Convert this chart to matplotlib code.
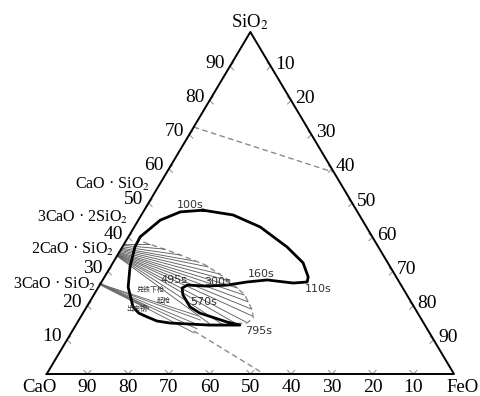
import numpy as np
import matplotlib.pyplot as plt

plt.rcParams['font.family'] = ['Liberation Serif', 'Noto Sans CJK SC']
plt.rcParams['mathtext.fontset'] = 'stix'

# slag path, composition in mass % (SiO2, FeO), CaO = rest
path_sio2 = [47.9, 46.5, 43.0, 37.1, 32.5, 28.4, 26.9, 26.6, 27.5, 26.9, 26.0, 25.7,
             26.0, 25.1, 23.1, 19.6, 17.8, 15.2, 14.3, 14.3, 14.9, 15.5, 16.7, 17.8,
             19.6, 25.4, 31.3, 37.1, 40.1, 45.0, 47.4, 47.9]
path_feo = [14.4, 22.5, 30.9, 40.5, 46.7, 50.0, 50.5, 47.2, 40.4, 35.7, 31.3, 26.5,
            21.5, 20.7, 21.9, 25.4, 28.7, 36.7, 40.3, 32.9, 22.8, 19.3, 16.3, 13.7,
            11.4, 7.3, 4.8, 3.1, 2.9, 5.4, 9.1, 14.4]

# time marks along the path
time_labels = ['100s', '110s', '160s', '300s', '495s', '570s', '795s']
time_sio2 = [49.4, 24.9, 29.2, 26.9, 27.5, 21.1, 12.6]
time_feo = [10.5, 54.2, 38.0, 28.4, 17.5, 27.9, 45.8]

# process events
event_labels = ['兑铁下枪', '起枪', '出完钢']
event_sio2 = [24.6, 21.4, 19.0]
event_feo = [13.3, 18.1, 12.5]

# tie lines from 2CaO·SiO2
c2s_start_sio2 = [38.0, 37.6, 37.2, 36.8, 36.5, 36.2, 35.9, 35.6, 35.4, 35.2,
                  35.0, 34.9, 34.8, 34.7, 34.6, 34.5]
c2s_end_sio2 = [38.0, 36.5, 34.8, 33.0, 31.3, 29.2, 27.2, 25.1, 23.1, 21.1,
                19.0, 17.0, 15.2, 14.9, 14.6, 14.6]
c2s_end_feo = [6.4, 10.8, 15.4, 19.9, 24.0, 28.0, 31.4, 34.4, 36.9, 38.9,
               40.7, 41.9, 41.3, 38.8, 35.7, 32.8]

# tie lines from 3CaO·SiO2
c3s_sio2 = 26.3
c3s_end_sio2 = [17.0, 15.8, 14.3, 13.2, 12.0]
c3s_end_feo = [28.7, 29.8, 30.2, 30.3, 30.2]
c3s_band_sio2 = [26.3, 19.3]
c3s_band_feo = [0.0, 15.2]

# dashed boundaries
sat_sio2 = [72.2, 59.1]
sat_feo = [0.0, 40.6]
env_sio2 = [38.6, 35.4, 31.9, 27.5, 23.1, 18.7, 16.4, 14.9, 14.3]
env_feo = [4.4, 13.8, 23.0, 30.8, 37.1, 41.1, 42.5, 41.7, 30.5]
low_sio2 = [12.6, 0.0]
low_feo = [29.8, 53.4]

ticks = [10, 20, 30, 40, 50, 60, 70, 80, 90]

compounds = ['CaO · SiO$_2$', '3CaO · 2SiO$_2$', '2CaO · SiO$_2$', '3CaO · SiO$_2$']


def tern(si, fe):
    si = np.asarray(si, float)
    fe = np.asarray(fe, float)
    return (fe + si / 2) / 100, si / 100


# pixel size in data units
PX = 1 / 407.3
PY = 1 / 342.0

fig = plt.figure(figsize=(4.81, 3.96), dpi=100)
ax = fig.add_axes([0, 0, 1, 1])
ax.set_xlim(-46.7 * PX, (481 - 46.7) * PX)
ax.set_ylim((374 - 396) * PY, 374 * PY)
ax.axis('off')

# triangle
ax.plot([0, 1, 0.5, 0], [0, 0, 1, 0], color='black', lw=1.4, zorder=5)

tick_col = '#8d9cab'
fs = 14
d = 3.5
for t in ticks:
    # bottom
    x, y = tern(0, 100 - t)
    ax.plot([x - d * PX, x, x + d * PX], [y + d * PY, y, y + d * PY], color=tick_col, lw=0.8)
    ax.text(x, y - 13 * PY, str(t), ha='center', va='center', fontsize=fs)
    # left
    x, y = tern(t, 0)
    ax.plot([x + d * PX, x, x + d * PX], [y + d * PY, y, y - d * PY], color=tick_col, lw=0.8)
    ax.text(x - 15 * PX, y + 3 * PY, str(t), ha='center', va='center', fontsize=fs)
    # right
    x, y = tern(t, 100 - t)
    ax.plot([x - d * PX, x, x - d * PX], [y + d * PY, y, y - d * PY], color=tick_col, lw=0.8)
    ax.text(x + 14 * PX, y + 2 * PY, str(100 - t), ha='center', va='center', fontsize=fs)

ax.text(-7 * PX, -13 * PY, 'CaO', ha='center', va='center', fontsize=13.5)
ax.text(1 + 9 * PX, -13 * PY, 'FeO', ha='center', va='center', fontsize=13.5)
ax.text(0.5, 1 + 10 * PY, 'SiO$_2$', ha='center', va='center', fontsize=13.5)

# compound labels on the CaO-SiO2 side
comp_pos = [(150, 184), (128, 217), (114, 249), (96, 284)]
for lab, (px, py) in zip(compounds, comp_pos):
    ax.text((px - 46.7) * PX, (374 - py) * PY, lab, ha='right', va='center', fontsize=11.5)

# dashed lines
dash_col = '#7f8f9c'
for si, fe in [(sat_sio2, sat_feo), (env_sio2, env_feo), (low_sio2, low_feo)]:
    x, y = tern(si, fe)
    ax.plot(x, y, color=dash_col, lw=1.0, ls=(0, (4, 2.5)))

# tie lines
x0, y0 = tern(c2s_start_sio2, np.zeros(len(c2s_start_sio2)))
x1, y1 = tern(c2s_end_sio2, c2s_end_feo)
for a, b, c, e in zip(x0, y0, x1, y1):
    ax.plot([a, c], [b, e], color='#606060', lw=0.65)

x, y = tern(c3s_band_sio2, c3s_band_feo)
ax.plot(x, y, color='#808080', lw=2.0)
xs, ys = tern(c3s_sio2, 0)
x1, y1 = tern(c3s_end_sio2, c3s_end_feo)
for c, e in zip(x1, y1):
    ax.plot([xs, c], [ys, e], color='#6a6a6a', lw=0.65)

# slag path
x, y = tern(path_sio2, path_feo)
ax.plot(x, y, color='black', lw=2.0, solid_joinstyle='round', zorder=6)

x, y = tern(time_sio2, time_feo)
for lab, a, b in zip(time_labels, x, y):
    ax.text(a, b, lab, ha='center', va='center', fontsize=8, color='#333333',
            family='DejaVu Sans', zorder=7)

x, y = tern(event_sio2, event_feo)
for lab, a, b in zip(event_labels, x, y):
    ax.text(a, b, lab, ha='center', va='center', fontsize=5, color='#333333',
            family='Noto Sans CJK SC', zorder=7)

fig.savefig('out.png', dpi=100)
